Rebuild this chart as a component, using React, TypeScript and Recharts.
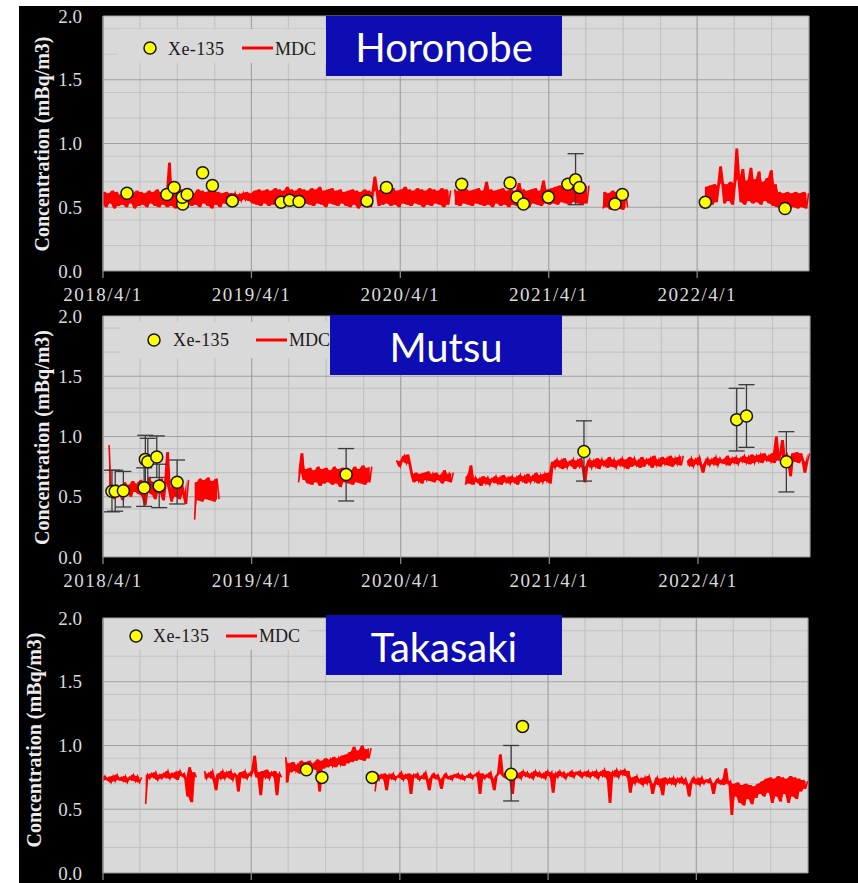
import React from 'react';
import { ComposedChart, Line, Area, Scatter, XAxis, YAxis, CartesianGrid, ErrorBar } from 'recharts';

const N = null;
const DAY_MS = 86400000;
const ORIGIN = Date.UTC(2018, 3, 1);
function dayOf(s: string): number {
  const [y, m, d] = s.split('-').map(Number);
  return Math.round((Date.UTC(y, m - 1, d) - ORIGIN) / DAY_MS);
}

// ---------- axes ----------
const axisEndDate = '2023-01-01';
const xTickDates = ['2018-04-01', '2019-04-01', '2020-04-01', '2021-04-01', '2022-04-01'];
const xTickLabels = ['2018/4/1', '2019/4/1', '2020/4/1', '2021/4/1', '2022/4/1'];
const quarterGridDates = [
  '2018-07-01', '2018-10-01', '2019-01-01', '2019-07-01', '2019-10-01', '2020-01-01',
  '2020-07-01', '2020-10-01', '2021-01-01', '2021-07-01', '2021-10-01', '2022-01-01',
  '2022-07-01', '2022-10-01',
];
const yTickValues = [0, 0.5, 1.0, 1.5, 2.0];
const yMinorGrid = [0.1, 0.2, 0.3, 0.4, 0.6, 0.7, 0.8, 0.9, 1.1, 1.2, 1.3, 1.4, 1.6, 1.7, 1.8, 1.9];
const mdcStepDays = 5; // MDC values below are read every 5 days from 2018/4/1

// ---------- Horonobe ----------
const horonobeXeDates = [
  '2018-05-30', '2018-09-05', '2018-09-23', '2018-10-14', '2018-10-13', '2018-10-25', '2018-12-02',
  '2018-12-26', '2019-02-13', '2019-06-13', '2019-07-04', '2019-07-27', '2020-01-10', '2020-02-27',
  '2020-08-30', '2020-12-27', '2021-01-13', '2021-01-29', '2021-03-31', '2021-05-18', '2021-06-06',
  '2021-06-16', '2021-09-11', '2021-09-29', '2022-04-21', '2022-11-03',
];
const horonobeXeValues = [
  0.61, 0.60, 0.655, 0.525, 0.578, 0.60, 0.77, 0.67, 0.55, 0.54, 0.555, 0.545, 0.55, 0.655,
  0.68, 0.69, 0.58, 0.525, 0.58, 0.68, 0.715, 0.655, 0.525, 0.60, 0.54, 0.49,
];
const horonobeXeLow = [N, N, N, N, N, N, N, N, N, N, N, N, N, N, N, N, N, N, N, N, 0.52, N, N, N, N, N];
const horonobeXeHigh = [N, N, N, N, N, N, N, N, N, N, N, N, N, N, N, N, N, N, N, N, 0.92, N, N, N, N, N];
const horonobeMdc = [
  .52, .62, .50, .61, .53, .63, .49, .62, .51, .60, .52, .63, .50, .62, .53, .61, .49, .63, .51, .62,
  .52, .61, .50, .63, .53, .62, .51, .64, .50, .62, .52, .63, .50, .85, .51, .62, .49, .63, .52, .64,
  .50, .62, .53, .63, .51, .61, .52, .64, .50, .63, .53, .62, .51, .63, .49, .64, .52, .62, .50, .61,
  .53, .62, .52, .61, .55, .61, .56, .60, .55, .61, .56, .62, .55, .61, .53, .63, .52, .64, .51, .63,
  .53, .64, .51, .63, .52, .65, .53, .64, .50, .63, .52, .66, .53, .64, .51, .63, .52, .65, .50, .64,
  .53, .63, .52, .65, .51, .64, .53, .66, .52, .63, .50, .64, .53, .65, .52, .63, .51, .64, .53, .62,
  .51, .63, .50, .64, .52, .63, .49, .62, .51, .64, .52, .63, .50, .62, .74, .63, .51, .64, .52, .65,
  .53, .64, .51, .65, .52, .63, .50, .64, .53, .66, .52, .64, .51, .63, .53, .65, .52, .64, .50, .63,
  .52, .65, .51, .64, .53, .63, .52, .65, .50, .64, .52, .63, N, .64, .52, .63, .51, .65, .53, .64,
  .52, .63, .51, .64, .53, .65, .52, .63, .51, .70, .52, .64, .50, .63, .53, .64, .51, .65, .52, .63,
  .50, .64, .52, .63, .51, .69, .53, .64, .52, .63, .50, .64, .53, .65, .52, .63, .51, .71, .53, .64,
  .52, .65, .53, .66, .52, .67, .54, .66, .53, .68, .52, .66, .54, .67, .53, .65, .52, .66, .53, .67,
  N, N, N, N, N, N, .49, .62, .50, .61, .48, .63, .50, .62, .49, .61, .48, .62, .50, N,
  N, N, N, N, N, N, N, N, N, N, N, N, N, N, N, N, N, N, N, N,
  N, N, N, N, N, N, N, N, N, N, N, N, N, N, N, N, .53, .66, .51, .67,
  .52, .68, .54, .67, .82, .69, .53, .68, .55, .70, .52, .69, .96, .72, .54, .80, .52, .71, .55, .81,
  .53, .72, .54, .78, .52, .70, .55, .73, .53, .79, .51, .68, .50, .62, .49, .61, .50, .62, .48, .61,
  .50, .62, .49, .61, .50, .62, .49, .61,
];

// ---------- Mutsu ----------
const mutsuXeDates = [
  '2018-04-23', '2018-05-01', '2018-05-21', '2018-07-11', '2018-07-14', '2018-07-20', '2018-08-11',
  '2018-08-17', '2018-09-30', '2019-11-19', '2021-06-25', '2022-07-05', '2022-07-29', '2022-11-04',
];
const mutsuXeValues = [0.545, 0.545, 0.55, 0.575, 0.81, 0.79, 0.83, 0.59, 0.62, 0.685, 0.875, 1.14, 1.17, 0.79];
const mutsuXeLow = [0.375, 0.38, 0.415, 0.42, 0.62, 0.60, 0.66, 0.41, 0.44, 0.465, 0.63, 0.88, 0.91, 0.54];
const mutsuXeHigh = [0.72, 0.72, 0.71, 0.74, 1.01, 0.985, 1.005, 0.77, 0.805, 0.90, 1.13, 1.40, 1.43, 1.04];
const mutsuMdc = [
  N, N, N, .93, .50, .58, .48, .60, .52, .57, .47, .62, .53, .60, .50, .63, .54, .61, .52, .64,
  .50, .43, .55, .66, .52, .62, .48, .60, .53, .65, .47, .62, .87, .55, .46, .61, .50, .64, .48, .60,
  .52, .44, .64, N, N, .31, .62, .47, .65, .46, .64, .48, .66, .47, .63, .46, .65, .48, N, N,
  N, N, N, N, N, N, N, N, N, N, N, N, N, N, N, N, N, N, N, N,
  N, N, N, N, N, N, N, N, N, N, N, N, N, N, N, N, .62, .72, .86, .64,
  .73, .61, .74, .60, .72, .62, .75, .59, .73, .61, .74, .62, .72, .60, .75, .61, .73, .58, .74, .62,
  .74, .61, .72, .60, .75, .62, .73, .61, .76, .60, .74, .62, .75, N, N, N, N, N, N, N,
  N, N, N, N, .80, .79, .75, .80, .84, .78, .85, .77, .68, .62, .70, .63, .69, .61, .70, .64,
  .71, .63, .69, .62, .70, .64, .68, .61, .72, .63, .69, .62, .70, N, N, N, N, N, .60, .67,
  .61, .76, .60, .66, .62, .65, .59, .67, .61, .66, .60, .65, .62, .67, .61, .66, .60, .68, .62, .66,
  .61, .67, .62, .66, .60, .68, .63, .67, .61, .69, .62, .67, .63, .70, .61, .68, .62, .69, .63, .70,
  .61, .79, .74, .81, .75, .80, .73, .82, .74, .79, .76, .81, .73, .80, .75, .82, .74, .62, .76, .81,
  .74, .80, .75, .82, .73, .81, .76, .80, .74, .83, .75, .81, .74, .80, .76, .82, .75, .81, .73, .83,
  .75, .82, .76, .80, .74, .83, .75, .81, .77, .82, .74, .84, .76, .81, .75, .83, .77, .82, .76, .84,
  .75, .82, .77, .83, .76, .84, N, .80, .76, .82, .75, .81, .77, .83, .76, .70, .78, .82, .76, .81,
  .77, .83, .76, .82, .78, .81, .77, .84, .76, .82, .78, .83, .77, .82, .79, .84, .78, .83, .77, .85,
  .78, .84, .79, .85, .78, .86, .80, .84, .79, .86, .78, 1.00, .80, .86, .97, .79, .85, .78, .67, .86,
  .79, .87, .78, .86, .80, .70, .79, .86,
];

// ---------- Takasaki ----------
const takasakiXeDates = ['2019-08-15', '2019-09-22', '2020-01-24', '2020-12-31', '2021-01-28'];
const takasakiXeValues = [0.81, 0.75, 0.75, 0.775, 1.15];
const takasakiXeLow = [N, N, N, 0.565, N];
const takasakiXeHigh = [N, N, N, 1.0, N];
const takasakiMdc = [
  .72, .76, .73, .75, .71, .76, .72, .77, .73, .75, .72, .76, .71, .75, .73, .77, .72, .76, .71, .75,
  N, .54, .77, .74, .78, .75, .79, .73, .77, .74, .78, .75, .80, .74, .78, .75, .79, .73, .80, .76,
  .78, .74, .60, .83, .555, .79, .75, N, N, N, .80, .74, .78, .75, .80, .73, .65, .78, .74, .80,
  .74, .79, .75, .80, .73, .78, .76, .64, .79, .75, .80, .74, .78, .76, .81, .92, .75, .79, .61, .80,
  .75, .81, .74, .79, .76, .80, .61, .78, .75, N, .91, .71, .86, .79, .87, .80, .85, .78, .88, .81,
  .87, .80, .88, .82, .86, .81, .89, .64, .88, .82, .90, .83, .89, .84, .91, .83, .90, .85, .92, .84,
  .93, .86, .95, .87, .99, .88, .96, .89, 1.0, .88, .97, .90, .98, N, .64, .78, .73, .77, .74, .78,
  .65, .77, .74, .78, .73, .76, .75, .79, .73, .77, .74, .78, .62, .77, .75, .78, .73, .76, .74, .79,
  .73, .65, .75, .78, .74, .77, .73, .66, .75, .78, .74, .76, .73, .77, .75, .78, .74, .77, .73, .76,
  .75, .78, .74, .77, .76, .79, .62, .78, .74, .77, .75, .79, .73, .65, .76, .78, .93, .77, .75, .79,
  .74, .78, .62, .79, .75, .78, .74, .80, .76, .79, .75, .78, .74, .80, .76, .79, .75, .78, .74, .80,
  .76, .79, .63, .78, .75, .80, .76, .79, .74, .78, .76, .80, .75, .79, .77, .80, .75, .79, .76, .80,
  .75, .79, .76, .80, .74, .79, .76, .81, .75, .80, .55, .79, .76, .81, .75, .80, .77, .81, .76, .80,
  .63, .75, .70, .76, .71, .74, .69, .75, .70, .76, .71, .62, .70, .75, .69, .74, .61, .75, .70, .74,
  .70, .75, .69, .74, .71, .75, .70, .74, .69, .60, .71, .75, .70, .74, .69, .75, .70, .73, .71, .74,
  .70, .62, .71, .74, .70, .73, .69, .82, .70, .72, .455, .70, .60, .71, .55, .69, .53, .70, .58, .69,
  .54, .68, .59, .70, .62, .72, .60, .74, .63, .75, .55, .74, .60, .76, .56, .75, .62, .74, .55, .76,
  .60, .75, .58, .74, .64, .73, .66, .72,
];

// ---------- helpers ----------
const X_END = dayOf(axisEndDate);
const tickDays = xTickDates.map(dayOf);
const quarterDays = quarterGridDates.map(dayOf);
const labelByDay: Record<number, string> = {};
tickDays.forEach((d, i) => { labelByDay[d] = xTickLabels[i]; });

const SERIF = '"Liberation Serif", "DejaVu Serif", serif';

const XTick = (props: any) => {
  const { x, y, payload, hidden } = props;
  if (hidden) return null;
  return (
    <text x={x} y={y + 21} textAnchor="middle" fill="#dcdcdc" fontFamily={SERIF} fontSize={19} letterSpacing={1.5}>
      {labelByDay[payload.value] ?? ''}
    </text>
  );
};
const YTick = (props: any) => {
  const { x, y, payload } = props;
  return (
    <text x={x} y={y + 6.5} textAnchor="end" fill="#dcdcdc" fontFamily={SERIF} fontSize={19}>
      {Number(payload.value).toFixed(1)}
    </text>
  );
};
const XeDot = (props: any) => {
  const { cx, cy } = props;
  if (cx == null || cy == null) return null;
  return <circle cx={cx} cy={cy} r={6} fill="#ffff00" stroke="#151515" strokeWidth={1.5} />;
};

type PanelProps = {
  top: number; height: number; plotTop: number; plotRight: number; showXLabels: boolean;
  mdc: (number | null)[]; xeDates: string[]; xeValues: number[];
  xeLow: (number | null)[]; xeHigh: (number | null)[];
};

function Panel(p: PanelProps) {
  // each point: the MDC value, plus the span between it and the next reading (fills the noisy band)
  const mdcData = p.mdc.map((v, i) => {
    const nx = i + 1 < p.mdc.length ? p.mdc[i + 1] : null;
    const band = v == null || nx == null ? null : [Math.min(v, nx), Math.max(v, nx)];
    return { d: i * mdcStepDays, v, band };
  });
  const xeData = p.xeDates.map((s, i) => {
    const v = p.xeValues[i];
    const lo = p.xeLow[i];
    const hi = p.xeHigh[i];
    return { d: dayOf(s), v, err: lo == null || hi == null ? null : [v - lo, hi - v] };
  });
  return (
    <div style={{ position: 'absolute', left: 0, top: p.top }}>
      <ComposedChart width={858} height={p.height} margin={{ top: p.plotTop, right: 858 - p.plotRight, bottom: 0, left: 0 }}>
        <CartesianGrid fill="#d9d9d9" fillOpacity={1} stroke="#c3c3c3" strokeWidth={1.2} horizontalValues={yMinorGrid} verticalValues={quarterDays} />
        <CartesianGrid stroke="#a2a2a2" strokeWidth={1.2} horizontalValues={[0.5, 1, 1.5, 2]} verticalValues={[...tickDays, X_END]} />
        <XAxis
          type="number" dataKey="d" domain={[0, X_END]} ticks={tickDays} allowDataOverflow
          height={39} tickSize={7} tickMargin={2} interval={0}
          axisLine={{ stroke: '#8f8f8f', strokeWidth: 1.2 }} tickLine={{ stroke: '#8f8f8f', strokeWidth: 1.2 }}
          tick={<XTick hidden={!p.showXLabels} />}
        />
        <YAxis
          type="number" domain={[0, 2]} ticks={yTickValues} allowDataOverflow width={103}
          tickSize={0} tickMargin={21} tickLine={false}
          axisLine={{ stroke: '#8f8f8f', strokeWidth: 1.2 }}
          tick={<YTick />}
        />
        <Area data={mdcData} dataKey="band" stroke="none" fill="#ff0000" fillOpacity={1} dot={false} activeDot={false}
          isAnimationActive={false} connectNulls={false} type="linear" />
        <Line data={mdcData} dataKey="v" stroke="#ff0000" strokeWidth={1.6} dot={false} activeDot={false}
          isAnimationActive={false} connectNulls={false} />
        <Scatter data={xeData} dataKey="v" shape={<XeDot />} isAnimationActive={false}>
          <ErrorBar dataKey="err" direction="y" width={8} stroke="#3a3a3a" strokeWidth={1.3} />
        </Scatter>
      </ComposedChart>
    </div>
  );
}

const stationNames = ['Horonobe', 'Mutsu', 'Takasaki'];
const yAxisTitle = 'Concentration (mBq/m3)';
const legendXe = 'Xe-135';
const legendMdc = 'MDC';

const legendLayout = [
  { box: [117, 29, 209, 34], cx: 150, cy: 48, xeX: 168, base: 54.5, l1: 242, l2: 273, mdcX: 275 },
  { box: [120, 322, 210, 36], cx: 154, cy: 340, xeX: 173, base: 346, l1: 256, l2: 287, mdcX: 289 },
  { box: [104, 619, 204, 31], cx: 136, cy: 636, xeX: 153, base: 642, l1: 226, l2: 257, mdcX: 259 },
];
const titleLayout = [
  { box: [326, 16, 236, 60], cx: 444, base: 62 },
  { box: [330, 315, 232, 60], cx: 446, base: 362 },
  { box: [326, 615, 236, 60], cx: 444, base: 662 },
];
const yTitleLayout = [
  { x: 49, cy: 144 },
  { x: 49, cy: 437.5 },
  { x: 41, cy: 740 },
];

export default function App() {
  return (
    <div style={{ position: 'absolute', left: 0, top: 0, width: 858, height: 883, overflow: 'hidden', background: '#fff' }}>
      <div style={{ position: 'absolute', left: 19, top: 6, width: 839, height: 877, background: '#000' }} />
      <Panel top={0} height={310} plotTop={16} plotRight={809} showXLabels={true}
        mdc={horonobeMdc} xeDates={horonobeXeDates} xeValues={horonobeXeValues} xeLow={horonobeXeLow} xeHigh={horonobeXeHigh} />
      <Panel top={300} height={296} plotTop={16} plotRight={810} showXLabels={true}
        mdc={mutsuMdc} xeDates={mutsuXeDates} xeValues={mutsuXeValues} xeLow={mutsuXeLow} xeHigh={mutsuXeHigh} />
      <Panel top={590} height={322} plotTop={28} plotRight={808} showXLabels={false}
        mdc={takasakiMdc} xeDates={takasakiXeDates} xeValues={takasakiXeValues} xeLow={takasakiXeLow} xeHigh={takasakiXeHigh} />
      <svg width={858} height={883} style={{ position: 'absolute', left: 0, top: 0, pointerEvents: 'none' }}>
        {legendLayout.map((L, i) => (
          <g key={'lg' + i}>
            <rect x={L.box[0]} y={L.box[1]} width={L.box[2]} height={L.box[3]} fill="#d9d9d9" />
            <circle cx={L.cx} cy={L.cy} r={6} fill="#ffff00" stroke="#151515" strokeWidth={1.5} />
            <text x={L.xeX} y={L.base} fontFamily={SERIF} fontSize={18} fill="#1a1a1a" letterSpacing={0.4}>{legendXe}</text>
            <line x1={L.l1} x2={L.l2} y1={L.cy} y2={L.cy} stroke="#ff0000" strokeWidth={3} />
            <text x={L.mdcX} y={L.base} fontFamily={SERIF} fontSize={18} fill="#1a1a1a">{legendMdc}</text>
          </g>
        ))}
        {titleLayout.map((T, i) => (
          <g key={'tt' + i}>
            <rect x={T.box[0]} y={T.box[1]} width={T.box[2]} height={T.box[3]} fill="#0d0db3" />
            <text x={T.cx} y={T.base} textAnchor="middle" fontFamily="Lato, 'Open Sans', sans-serif" fontSize={40} fill="#ffffff">{stationNames[i]}</text>
          </g>
        ))}
        {yTitleLayout.map((Y, i) => (
          <text key={'yt' + i} transform={`translate(${Y.x},${Y.cy}) rotate(-90)`} textAnchor="middle"
            fontFamily={SERIF} fontWeight="bold" fontSize={20} fill="#ececec">{yAxisTitle}</text>
        ))}
      </svg>
    </div>
  );
}
